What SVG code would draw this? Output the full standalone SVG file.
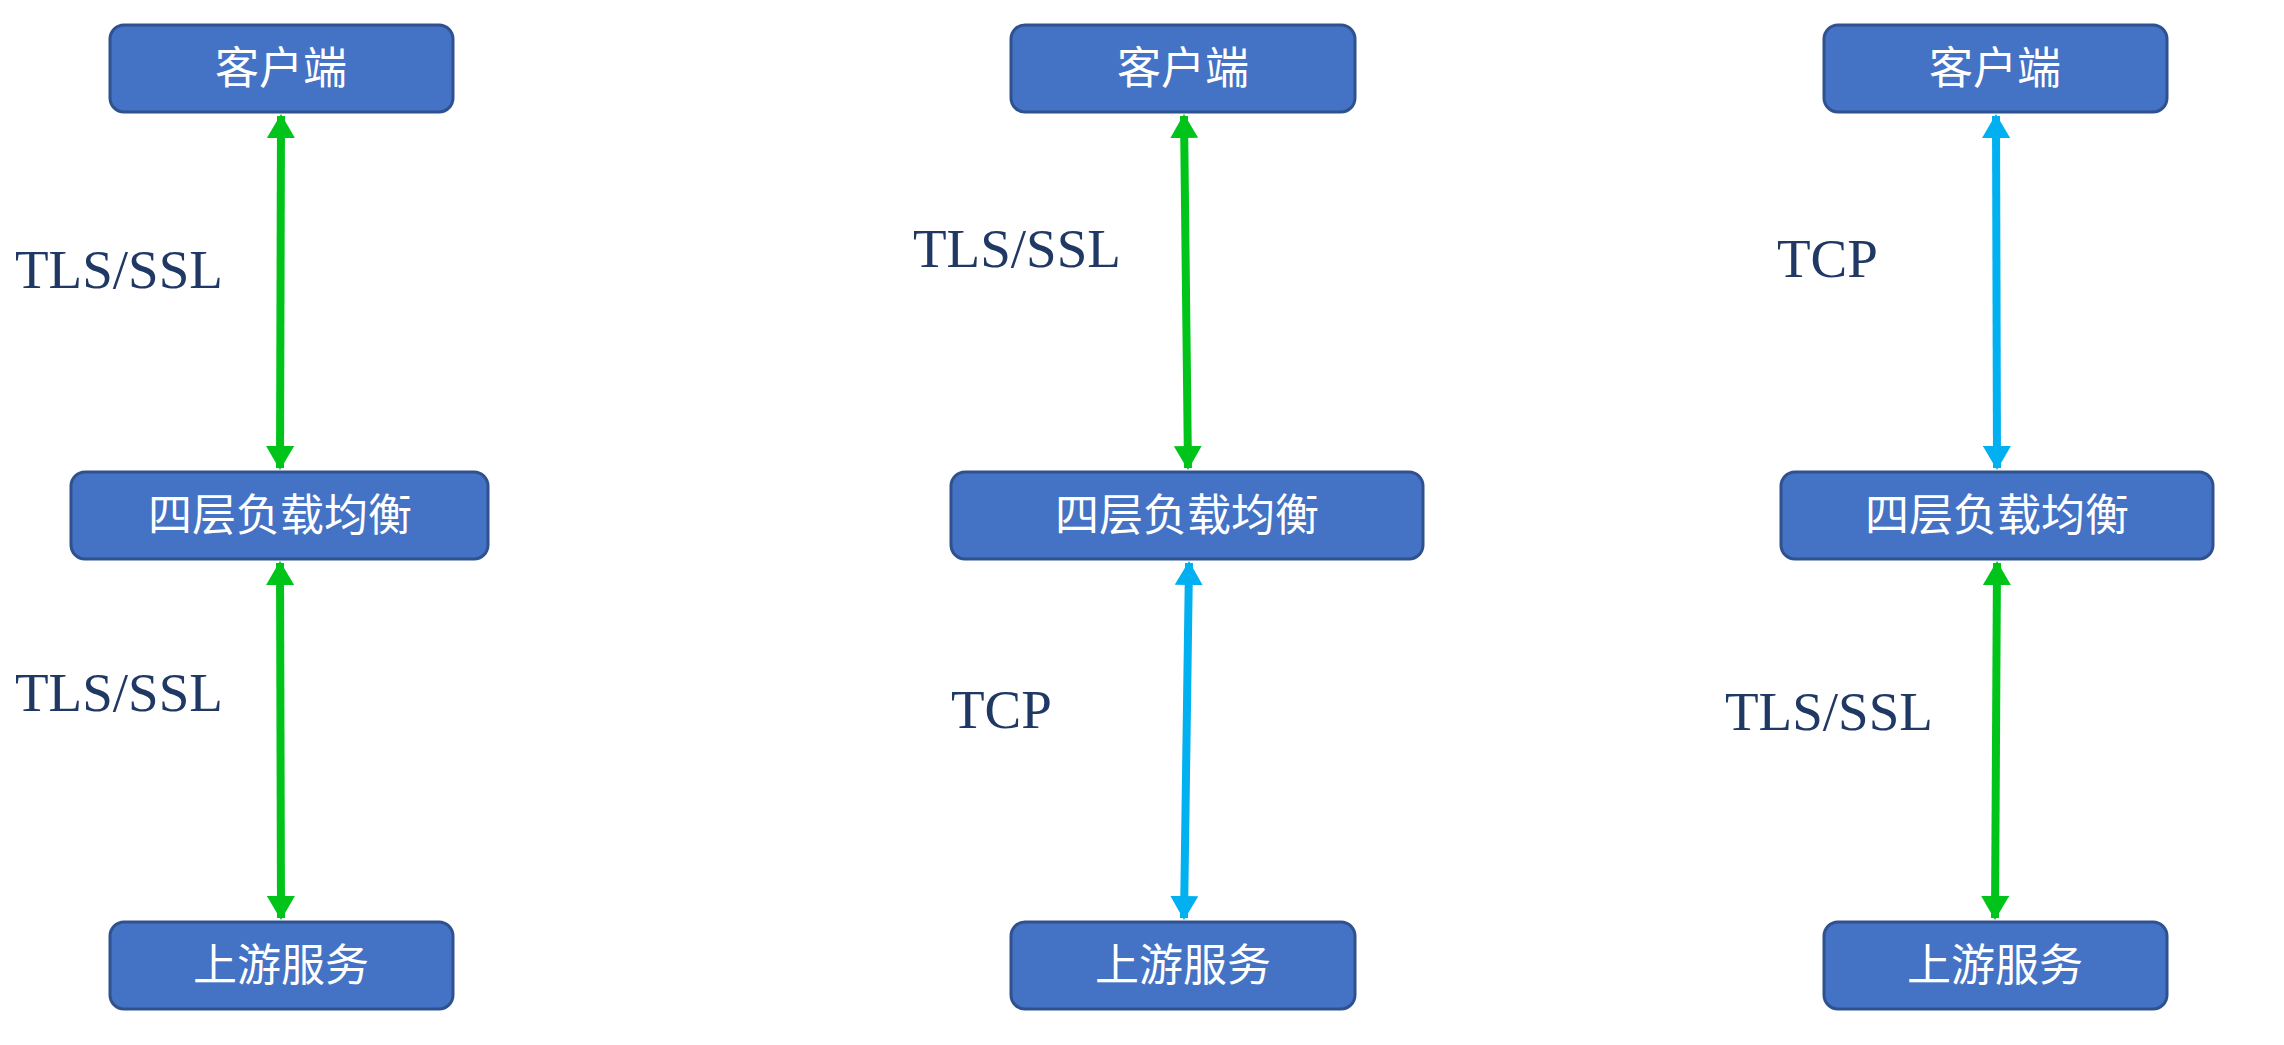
<svg xmlns="http://www.w3.org/2000/svg" width="2284" height="1045" viewBox="0 0 2284 1045">
<style>
.n rect{fill:#4472c4;stroke:#2f528f;stroke-width:3}
.n text{fill:#fff;font-family:"Noto Sans CJK SC","Noto Sans",sans-serif;font-size:44px;text-anchor:middle}
.lb{fill:#203864;font-family:"Liberation Serif",serif;font-size:55px}
.g{stroke:#00c41a;stroke-width:8;fill:none;marker-start:url(#gs);marker-end:url(#ge)}
.b{stroke:#00b0f0;stroke-width:8;fill:none;marker-start:url(#bs);marker-end:url(#be)}
</style>
<defs>
<marker id="ge" markerUnits="userSpaceOnUse" viewBox="0 0 24 28" refX="22" refY="14" markerWidth="24" markerHeight="28" orient="auto"><path d="M0,0L24,14L0,28Z" fill="#00c41a"/></marker>
<marker id="gs" markerUnits="userSpaceOnUse" viewBox="0 0 24 28" refX="2" refY="14" markerWidth="24" markerHeight="28" orient="auto"><path d="M24,0L0,14L24,28Z" fill="#00c41a"/></marker>
<marker id="be" markerUnits="userSpaceOnUse" viewBox="0 0 24 28" refX="22" refY="14" markerWidth="24" markerHeight="28" orient="auto"><path d="M0,0L24,14L0,28Z" fill="#00b0f0"/></marker>
<marker id="bs" markerUnits="userSpaceOnUse" viewBox="0 0 24 28" refX="2" refY="14" markerWidth="24" markerHeight="28" orient="auto"><path d="M24,0L0,14L24,28Z" fill="#00b0f0"/></marker>
</defs>
<g id="connectors">
<path class="g" d="M281,116L280,468"/>
<path class="g" d="M280,563L281,918"/>
<path class="g" d="M1184,116L1188,468"/>
<path class="b" d="M1189,563L1184,918"/>
<path class="b" d="M1996,116L1997,468"/>
<path class="g" d="M1997,563L1995,918"/>
<text class="lb" x="15" y="288">TLS/SSL</text>
<text class="lb" x="15" y="711">TLS/SSL</text>
<text class="lb" x="913" y="267">TLS/SSL</text>
<text class="lb" x="951" y="728">TCP</text>
<text class="lb" x="1777" y="277">TCP</text>
<text class="lb" x="1725" y="730">TLS/SSL</text>
</g>
<g id="c1" class="n"><rect x="110" y="25" width="343" height="87" rx="14"/><text x="281" y="84">客户端</text></g>
<g id="l1" class="n"><rect x="71" y="472" width="417" height="87" rx="14"/><text x="280" y="531">四层负载均衡</text></g>
<g id="u1" class="n"><rect x="110" y="922" width="343" height="87" rx="14"/><text x="281" y="981">上游服务</text></g>
<g id="c2" class="n"><rect x="1011" y="25" width="344" height="87" rx="14"/><text x="1183" y="84">客户端</text></g>
<g id="l2" class="n"><rect x="951" y="472" width="472" height="87" rx="14"/><text x="1187" y="531">四层负载均衡</text></g>
<g id="u2" class="n"><rect x="1011" y="922" width="344" height="87" rx="14"/><text x="1183" y="981">上游服务</text></g>
<g id="c3" class="n"><rect x="1824" y="25" width="343" height="87" rx="14"/><text x="1995" y="84">客户端</text></g>
<g id="l3" class="n"><rect x="1781" y="472" width="432" height="87" rx="14"/><text x="1997" y="531">四层负载均衡</text></g>
<g id="u3" class="n"><rect x="1824" y="922" width="343" height="87" rx="14"/><text x="1995" y="981">上游服务</text></g>
</svg>
